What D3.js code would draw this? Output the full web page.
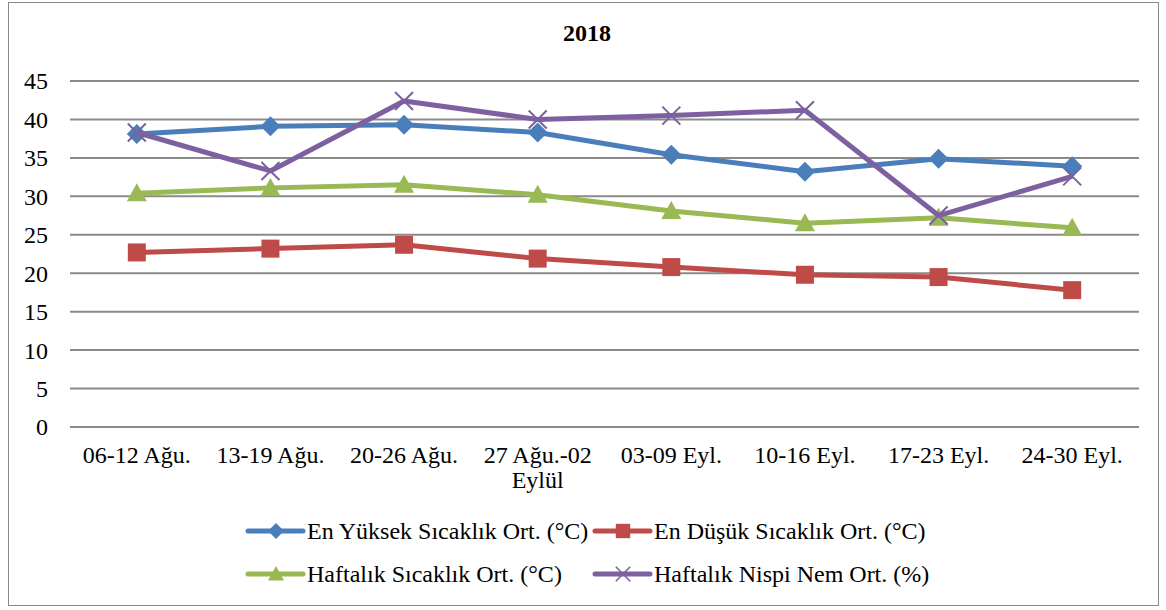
<!DOCTYPE html>
<html>
<head>
<meta charset="utf-8">
<script src="https://cdn.jsdelivr.net/npm/d3@7"></script>
<style>
  body { margin: 0; background: #fff; }
  svg text, svg tspan { font-family: "Liberation Serif", serif; }
</style>
</head>
<body>
<div id="chart"></div>
<script>
// data
const categories = ["06-12 Ağu.", "13-19 Ağu.", "20-26 Ağu.", "27 Ağu.-02 Eylül", "03-09 Eyl.", "10-16 Eyl.", "17-23 Eyl.", "24-30 Eyl."];
const enYuksek = [38.1, 39.1, 39.3, 38.3, 35.4, 33.2, 34.9, 33.9];
const enDusuk = [22.7, 23.2, 23.7, 21.9, 20.8, 19.8, 19.5, 17.8];
const haftalikSicaklik = [30.4, 31.1, 31.5, 30.2, 28.1, 26.5, 27.2, 25.9];
const haftalikNem = [38.3, 33.3, 42.4, 40.0, 40.5, 41.2, 27.5, 32.6];
const seriesNames = ["En Yüksek Sıcaklık Ort. (°C)", "En Düşük Sıcaklık Ort. (°C)", "Haftalık Sıcaklık Ort. (°C)", "Haftalık Nispi Nem Ort. (%)"];
const yTicks = [0, 5, 10, 15, 20, 25, 30, 35, 40, 45];

const series = [
  { name: seriesNames[0], values: enYuksek, color: "#4a7ebb", marker: "diamond" },
  { name: seriesNames[1], values: enDusuk, color: "#be4b48", marker: "square" },
  { name: seriesNames[2], values: haftalikSicaklik, color: "#98b954", marker: "triangle" },
  { name: seriesNames[3], values: haftalikNem, color: "#7d60a0", marker: "x" }
];

const W = 1166, H = 610;
const margin = { top: 81, right: 27, bottom: 183, left: 70 };
const width = W - margin.left - margin.right;
const height = H - margin.top - margin.bottom;
const FONT = "Liberation Serif, serif";
const FS = 24;

const svg = d3.select("#chart").append("svg")
  .attr("width", W)
  .attr("height", H)
  .attr("font-family", FONT);

// outer border
svg.append("rect")
  .attr("x", 8.5).attr("y", 2.5)
  .attr("width", 1150).attr("height", 603)
  .attr("fill", "none")
  .attr("stroke", "#898989")
  .attr("stroke-width", 1);

// title
svg.append("text")
  .attr("x", 587).attr("y", 41)
  .attr("text-anchor", "middle")
  .attr("font-size", FS)
  .attr("font-weight", "bold")
  .text("2018");

const g = svg.append("g").attr("transform", `translate(${margin.left}, ${margin.top})`);

const x = d3.scaleBand().domain(categories).range([0, width]);
const y = d3.scaleLinear().domain([0, 45]).range([height, 0]);

// gridlines
g.selectAll(".grid")
  .data(yTicks)
  .enter().append("line")
  .attr("x1", 0).attr("x2", width)
  .attr("y1", d => y(d)).attr("y2", d => y(d))
  .attr("stroke", "#8a8a8a")
  .attr("stroke-width", 2);

// y labels
g.selectAll(".ylab")
  .data(yTicks)
  .enter().append("text")
  .attr("x", -22)
  .attr("y", d => y(d))
  .attr("dy", "0.35em")
  .attr("text-anchor", "end")
  .attr("font-size", FS)
  .text(d => d);

// x labels (wrap like the original)
const xl = g.selectAll(".xlab")
  .data(categories)
  .enter().append("text")
  .attr("x", d => x(d) + x.bandwidth() / 2)
  .attr("y", height + 36)
  .attr("text-anchor", "middle")
  .attr("font-size", FS);
xl.each(function (d) {
  const t = d3.select(this);
  const parts = d.length > 12 ? [d.slice(0, d.lastIndexOf(" ")), d.slice(d.lastIndexOf(" ") + 1)] : [d];
  parts.forEach((p, i) => {
    t.append("tspan")
      .attr("x", x(d) + x.bandwidth() / 2)
      .attr("dy", i === 0 ? 0 : 25)
      .text(p);
  });
});

const cx = (d, i) => x(categories[i]) + x.bandwidth() / 2;
const line = d3.line().x((d, i) => cx(d, i)).y(d => y(d));

function drawMarker(sel, type, color) {
  if (type === "diamond") {
    sel.append("path").attr("d", "M0,-10L10,0L0,10L-10,0Z").attr("fill", color);
  } else if (type === "square") {
    sel.append("rect").attr("x", -9).attr("y", -9).attr("width", 18).attr("height", 18).attr("fill", color);
  } else if (type === "triangle") {
    sel.append("path").attr("d", "M0,-10L10,8L-10,8Z").attr("fill", color);
  } else {
    sel.append("path").attr("d", "M-9,-9L9,9M-9,9L9,-9").attr("stroke", color).attr("stroke-width", 2).attr("fill", "none");
  }
}

series.forEach(s => {
  g.append("path")
    .datum(s.values)
    .attr("fill", "none")
    .attr("stroke", s.color)
    .attr("stroke-width", 5)
    .attr("stroke-linejoin", "round")
    .attr("d", line);
  g.selectAll(null)
    .data(s.values)
    .enter().append("g")
    .attr("transform", (d, i) => `translate(${cx(d, i)}, ${y(d)})`)
    .each(function () { drawMarker(d3.select(this), s.marker, s.color); });
});

// legend
const legendPos = [[248, 531], [595, 531], [248, 574], [595, 574]];
series.forEach((s, i) => {
  const lg = svg.append("g").attr("transform", `translate(${legendPos[i][0]}, ${legendPos[i][1]})`);
  lg.append("line")
    .attr("x1", 0).attr("x2", 55)
    .attr("stroke", s.color)
    .attr("stroke-width", 5)
    .attr("stroke-linecap", "round");
  const m = lg.append("g").attr("transform", "translate(28,0) scale(0.8)");
  drawMarker(m, s.marker, s.color);
  lg.append("text")
    .attr("x", 59).attr("y", 0)
    .attr("dy", "0.35em")
    .attr("font-size", FS)
    .text(s.name);
});
</script>
</body>
</html>
